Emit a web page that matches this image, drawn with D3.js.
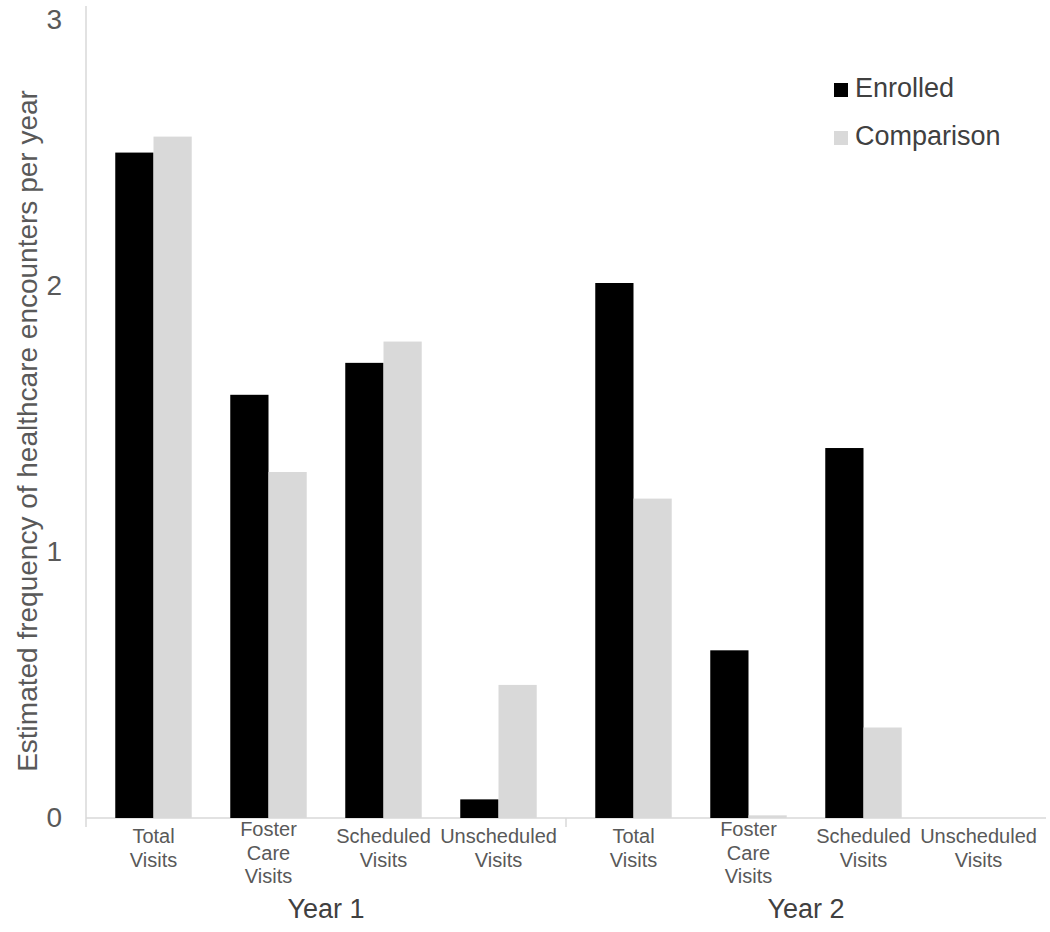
<!DOCTYPE html>
<html>
<head>
<meta charset="utf-8">
<script src="https://cdn.jsdelivr.net/npm/d3@7"></script>
<style>
  html, body { margin: 0; padding: 0; background: #fff; }
  svg { display: block; font-family: Arial, "Liberation Sans", sans-serif; }
</style>
</head>
<body>
<svg id="chart" width="1050" height="932"></svg>
<script>
// ---- Data ----
const groups = ["Year 1", "Year 2"];
const categories = [
  ["Total", "Visits"],
  ["Foster", "Care", "Visits"],
  ["Scheduled", "Visits"],
  ["Unscheduled", "Visits"]
];
const series = ["Enrolled", "Comparison"];
const enrolled = [2.50, 1.59, 1.71, 0.07, 2.01, 0.63, 1.39, 0.00];
const comparison = [2.56, 1.30, 1.79, 0.50, 1.20, 0.01, 0.34, 0.00];
const yTicks = [0, 1, 2, 3];
const yTitle = "Estimated frequency of healthcare encounters per year";

// ---- Layout ----
const svg = d3.select("#chart");
const x0 = 86, x1 = 1046, yTop = 19.5, yBot = 818;
const colors = { Enrolled: "#000000", Comparison: "#d9d9d9" };
const axisColor = "#d9d9d9";
const textColor = "#595959";

const y = d3.scaleLinear().domain([0, 3]).range([yBot, yTop]);

const groupScale = d3.scaleBand().domain(groups).range([x0, x1]);
const catIdx = categories.map((c, i) => i);

// y axis line
svg.append("line").attr("x1", x0).attr("x2", x0).attr("y1", 6).attr("y2", yBot + 9)
  .attr("stroke", axisColor).attr("stroke-width", 1.5);

// y tick labels
const yAxis = d3.axisLeft(y).tickValues(yTicks).tickSize(0).tickPadding(0).tickFormat(d3.format("d"));
const gy = svg.append("g").attr("transform", `translate(${x0 - 24},0)`).call(yAxis);
gy.select(".domain").remove();
gy.selectAll("text").attr("font-size", 28).attr("fill", textColor)
  .attr("font-family", "Arial, 'Liberation Sans', sans-serif");

// x axis baseline
svg.append("line").attr("x1", x0).attr("x2", x1).attr("y1", yBot).attr("y2", yBot)
  .attr("stroke", axisColor).attr("stroke-width", 1.5);

// group separators
groups.forEach((g, gi) => {
  const gx = groupScale(g);
  if (gi > 0) {
    svg.append("line").attr("x1", gx).attr("x2", gx).attr("y1", yBot).attr("y2", yBot + 9)
      .attr("stroke", axisColor).attr("stroke-width", 1.5);
  }
});

// bars
groups.forEach((g, gi) => {
  const gStart = groupScale(g), gw = groupScale.bandwidth();
  const cat = d3.scaleBand().domain(catIdx).range([gStart + 10, gStart + gw - 10]).paddingInner(0.335).paddingOuter(0.1675);
  const sub = d3.scaleBand().domain(series).range([0, cat.bandwidth()]);
  const gEl = svg.append("g");
  catIdx.forEach(ci => {
    const k = gi * categories.length + ci;
    const vals = { Enrolled: enrolled[k], Comparison: comparison[k] };
    series.forEach(s => {
      const v = vals[s];
      gEl.append("rect")
        .attr("x", cat(ci) + sub(s))
        .attr("width", sub.bandwidth())
        .attr("y", y(v))
        .attr("height", Math.max(0, y(0) - y(v)))
        .attr("fill", colors[s]);
    });
    // category label
    const lines = categories[ci];
    const cx = cat(ci) + cat.bandwidth() / 2;
    const startY = lines.length === 3 ? 836 : 843;
    const t = gEl.append("text").attr("text-anchor", "middle").attr("font-size", 20).attr("fill", textColor);
    lines.forEach((ln, li) => {
      t.append("tspan").attr("x", cx).attr("y", startY + li * 23.5).text(ln);
    });
  });
  // group label
  svg.append("text").attr("x", gStart + gw / 2).attr("y", 918)
    .attr("text-anchor", "middle").attr("font-size", 27).attr("fill", "#404040").text(g);
});

// y axis title
svg.append("text").attr("transform", `translate(37,431) rotate(-90)`)
  .attr("text-anchor", "middle").attr("font-size", 28).attr("fill", textColor).text(yTitle);

// legend
const legend = svg.append("g");
series.forEach((s, i) => {
  const ly = 97 + i * 48;
  legend.append("rect").attr("x", 834).attr("y", ly - 14).attr("width", 14).attr("height", 14).attr("fill", colors[s]);
  legend.append("text").attr("x", 855).attr("y", ly).attr("font-size", 27).attr("fill", "#404040").text(s);
});
</script>
</body>
</html>
